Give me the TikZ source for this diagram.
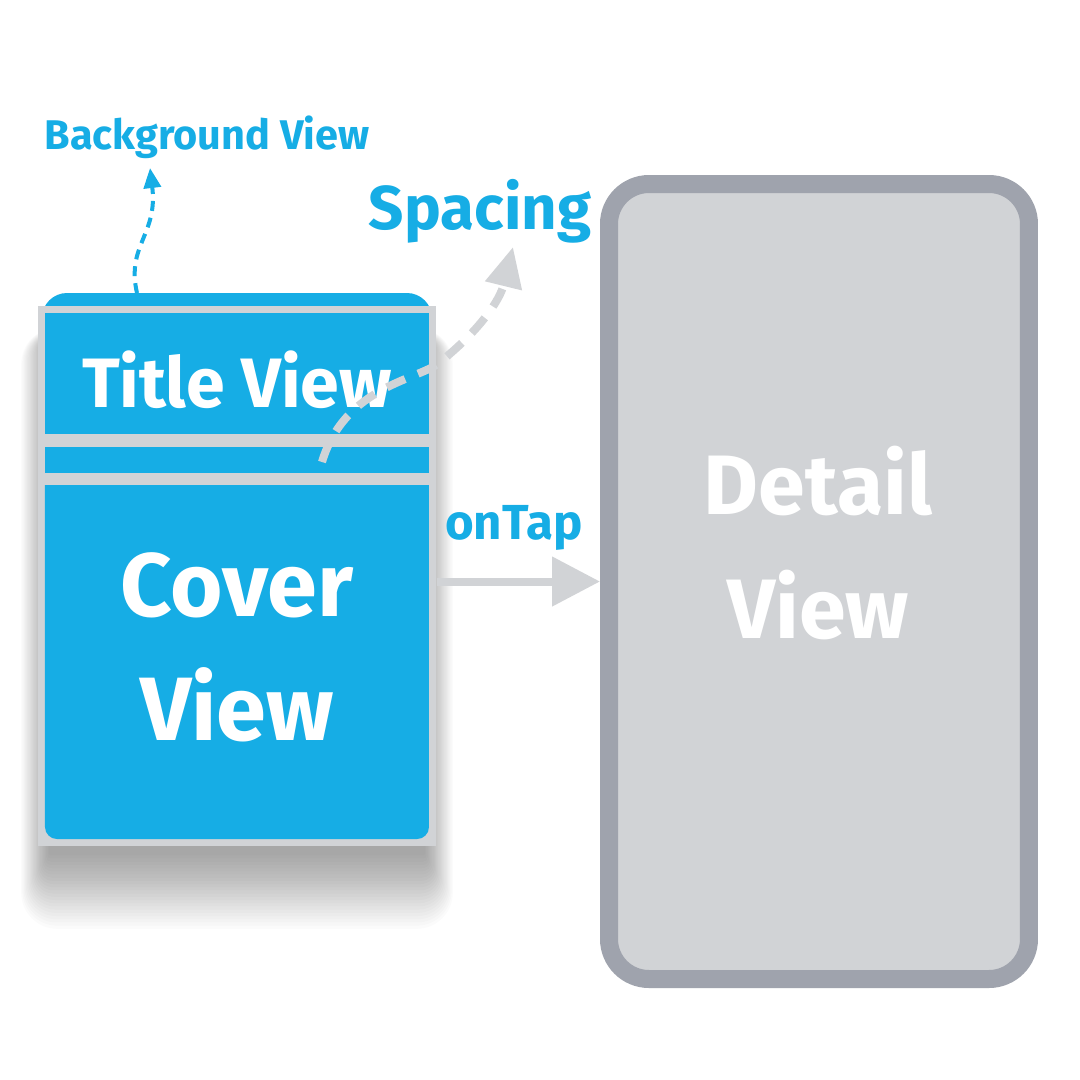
\documentclass[tikz,border=0pt]{standalone}
\usepackage{fontspec}
\setmainfont{Fira Sans}
\usetikzlibrary{arrows.meta}
\definecolor{cblue}{HTML}{16ADE5}
\definecolor{clight}{HTML}{D1D3D6}
\definecolor{cframe}{HTML}{9FA3AD}

\begin{document}
\begin{tikzpicture}[x=0.1mm, y=-0.1mm]
    \useasboundingbox[fill=white] (0,0) rectangle (1080,1080);
    \foreach \i [evaluate=\i as \r using \i*0.15] in {1,...,24}
        \fill[black, opacity=0.017, rounded corners=\r mm] ({50-1.2*\i}, {340-0.5*\i}) rectangle ({424+1.2*\i}, {852+3.2*\i});
    \fill[cblue, rounded corners=2.5mm] (42,293) rectangle (432,700);
    \node (card) [fill=clight, minimum width=39.8mm, minimum height=54mm, inner sep=0pt] at (237,576) {};
    \fill[cblue] (45,313) rectangle (429,434);
    \fill[cblue] (45,447) rectangle (429,473);
    \fill[cblue] (45,485) -- (429,485) [rounded corners=1.2mm] -- (429,839) -- (45,839) [sharp corners] -- cycle;
    \node (detail) [draw=cframe, fill=clight, line width=1.8mm, rounded corners=4mm, minimum width=42mm, minimum height=79.5mm] at (819,581.5) {};
    \node (titletxt) [font=\fontsize{19.9pt}{24pt}\selectfont\bfseries, text=white] at (237,380) {Title View};
    \node (covertxt) [align=center, font=\fontsize{25.6pt}{35.3pt}\selectfont\bfseries, text=white] at (237,647) {Cover\\View};
    \node (detailtxt) [align=center, font=\fontsize{24pt}{35pt}\selectfont\bfseries, text=white] at (818,543) {Detail\\View};
    \node (bglbl) [font=\fontsize{11.8pt}{14pt}\selectfont\bfseries, text=cblue] at (207,137) {Background View};
    \node (spacelbl) [font=\fontsize{17.6pt}{20pt}\selectfont\bfseries, text=cblue] at (480,211) {Spacing};
    \node (taplbl) [font=\fontsize{14pt}{17pt}\selectfont\bfseries, text=cblue] at (514,528) {onTap};
    \coordinate (bgfrom) at (137,293);
    \coordinate (bgto) at (150,168);
    \draw[cblue, line width=0.4mm, dash pattern=on 1mm off 0.7mm, -{Triangle[length=2mm, width=1.7mm]}] (bgfrom) .. controls (126,245) and (158,235) .. (bgto);
    \coordinate (spfrom) at (322,462);
    \coordinate (spto) at (513,247);
    \draw[clight, line width=0.8mm, dash pattern=on 2mm off 1.4mm, -{Triangle[length=4mm, width=3.6mm]}] (spfrom) .. controls (345,385) and (420,380) .. (440,362) .. controls (480,330) and (500,300) .. (spto);
    \draw[clight, line width=0.8mm, -{Triangle[length=4.8mm, width=4.8mm]}] (card.east |- detail.west) -- (detail.west);
\end{tikzpicture}
\end{document}
